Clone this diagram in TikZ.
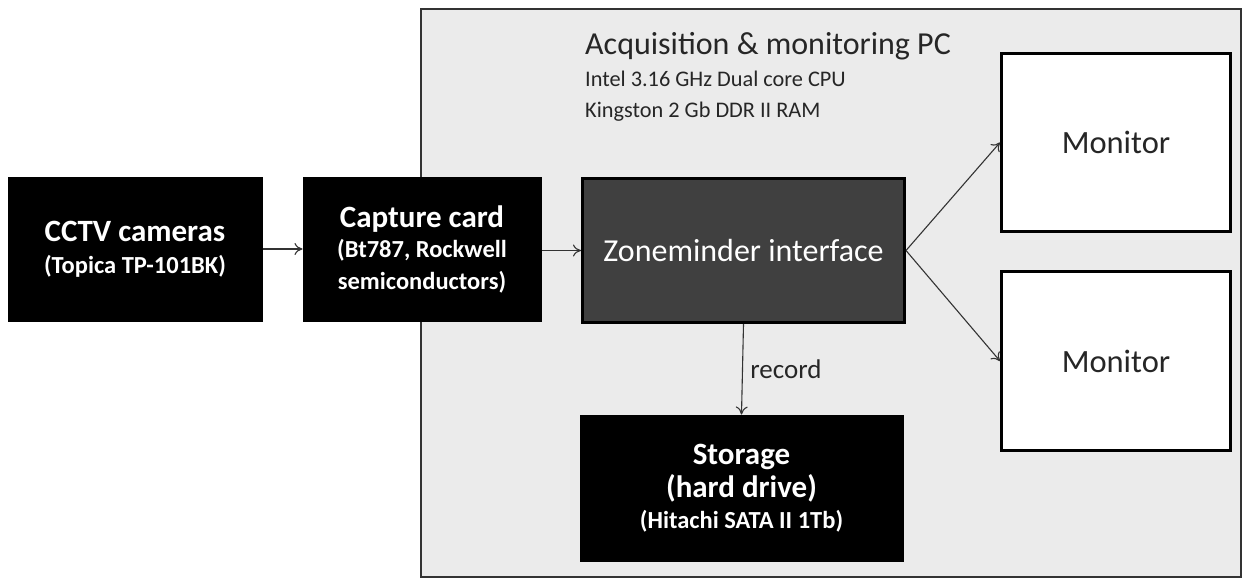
\documentclass[tikz,border=0pt]{standalone}
\usepackage{fontspec}
\setmainfont{Carlito}
\usetikzlibrary{arrows.meta}
\definecolor{pcgray}{HTML}{EBEBEB}
\definecolor{zmgray}{HTML}{404040}
\definecolor{linegray}{HTML}{333333}
\newcommand{\subfs}{\fontsize{24.5}{30}\selectfont}
\begin{document}
\begin{tikzpicture}[x=1pt,y=-1pt,
  blackbox/.style={draw=black, fill=black, text=white, line width=1pt, inner sep=0pt, align=center, font=\fontsize{31}{34}\selectfont\bfseries},
  zmbox/.style={draw=black, fill=zmgray, text=white, line width=3pt, inner sep=0pt, align=center, font=\fontsize{32}{36}\selectfont},
  monbox/.style={draw=black, fill=white, line width=3pt, inner sep=0pt, text=black!85, font=\fontsize{32.5}{36}\selectfont},
  conn/.style={draw=linegray, line width=1.1pt, -{To[length=8pt,width=12pt]}},
  plain/.style={anchor=base west, text=black!85, inner sep=0pt}
]
\useasboundingbox (0,0) rectangle (1244,579);
\node[draw=linegray, fill=pcgray, line width=2pt, minimum width=820pt, minimum height=568pt, inner sep=0pt, anchor=north west] (pc) at (420,8) {};
\node[plain, font=\fontsize{32}{36}\selectfont] (pctitle) at (585,54) {Acquisition \& monitoring PC};
\node[plain, font=\fontsize{22.3}{26}\selectfont] (cpu) at (585,86) {Intel 3.16 GHz Dual core CPU};
\node[plain, font=\fontsize{22.3}{26}\selectfont] (ram) at (585,117) {Kingston 2 Gb DDR II RAM};

\node[blackbox, minimum width=254pt, minimum height=144pt] (cctv) at (135,249) {CCTV cameras\\[-2pt]{\subfs (Topica TP-101BK)}};
\node[blackbox, minimum width=238pt, minimum height=144pt] (cap) at (422,249) {Capture card\\[-4pt]{\subfs (Bt787, Rockwell}\\[-2pt]{\subfs semiconductors)}};
\node[zmbox, minimum width=322pt, minimum height=144pt] (zm) at (743.5,250.5) {Zoneminder interface};
\node[blackbox, minimum width=323pt, minimum height=146pt] (st) at (741.5,488) {Storage\\[-1pt](hard drive)\\[-3pt]{\subfs (Hitachi SATA II 1Tb)}};
\node[monbox, minimum width=229pt, minimum height=178pt] (m1) at (1116,142.5) {Monitor};
\node[monbox, minimum width=229pt, minimum height=179pt] (m2) at (1116,361) {Monitor};

\draw[conn] (cctv) -- (cap);
\draw[conn] (cap.east |- zm.west) -- (zm.west);
\draw[conn] (zm.east) -- (m1.west);
\draw[conn] (zm.east) -- (m2.west);
\draw[conn] (zm.south) -- node[right=4pt, font=\fontsize{27}{30}\selectfont, text=black!85] (rec) {record} (st.north);
\end{tikzpicture}
\end{document}
